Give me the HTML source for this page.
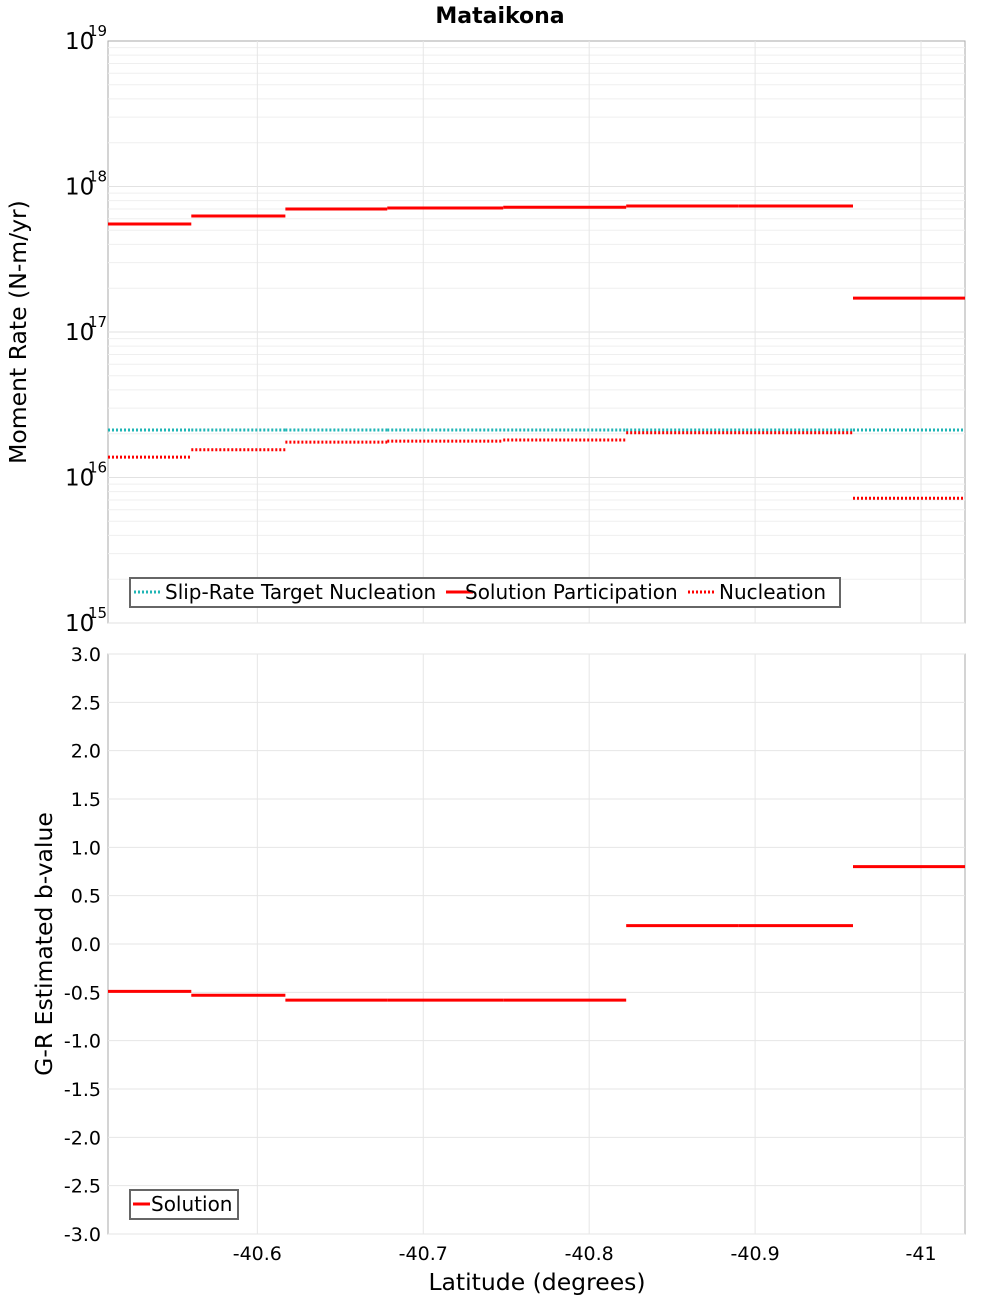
<!DOCTYPE html>
<html><head><meta charset="utf-8"><style>
body{margin:0;background:#fff}
svg text{font-family:"DejaVu Sans","Liberation Sans",sans-serif}
</style></head><body>
<svg id="c" width="1000" height="1300" xmlns="http://www.w3.org/2000/svg"></svg>
<script>
const bounds=[-40.510,-40.5602,-40.6169,-40.6783,-40.7482,-40.8223,-40.8898,-40.959,-41.0265];
const participation=[5.52e17,6.27e17,7.0e17,7.11e17,7.2e17,7.35e17,7.35e17,1.71e17];
const nucleation=[1.38e16,1.55e16,1.75e16,1.78e16,1.81e16,2.03e16,2.03e16,7.2e15];
const target=[2.12e16,2.12e16,2.12e16,2.12e16,2.12e16,2.12e16,2.12e16,2.12e16];
const bvalues=[-0.49,-0.53,-0.58,-0.58,-0.58,0.19,0.19,0.80];
const xTicks=[-40.6,-40.7,-40.8,-40.9,-41];
const xTickLabels=["-40.6","-40.7","-40.8","-40.9","-41"];
const logTicks=[15,16,17,18,19];
const bTicks=[-3,-2.5,-2,-1.5,-1,-0.5,0,0.5,1,1.5,2,2.5,3];

const NS="http://www.w3.org/2000/svg",svg=document.getElementById('c');
const L=108,R=965,T1=41,B1=623,T2=654,B2=1234;
const X=v=>L+(bounds[0]-v)/(bounds[0]-bounds[bounds.length-1])*(R-L);
const Y1=v=>B1-(Math.log10(v)-15)/4*(B1-T1);
const Y2=v=>B2-(v+3)/6*(B2-T2);
function el(t,a,txt){const e=document.createElementNS(NS,t);for(const k in a)e.setAttribute(k,a[k]);if(txt!==undefined)e.textContent=txt;svg.appendChild(e);return e;}

let f=el('rect',{x:L,y:T1,width:R-L,height:B1-T1,fill:'#fff',stroke:'#aaa'});

f=el('rect',{x:L,y:T2,width:R-L,height:B2-T2,fill:'#fff',stroke:'#aaa'});


for(let d=15;d<19;d++)for(let m=1;m<10;m++){const y=Y1(m*Math.pow(10,d));
 const g=el('line',{x1:L,x2:R,y1:y,y2:y,stroke:m==1?'#e2e2e2':'#efefef'});
 }
bTicks.forEach(v=>{const y=Y2(v);const g=el('line',{x1:L,x2:R,y1:y,y2:y,stroke:'#e6e6e6'});
 });
xTicks.forEach(v=>{const x=X(v);[[T1,B1],[T2,B2]].forEach(p=>{const g=el('line',{x1:x,x2:x,y1:p[0],y2:p[1],stroke:'#e6e6e6'});
 });});

logTicks.forEach(d=>{const y=Y1(Math.pow(10,d));
 const t=el('text',{x:65,y:y+8,'font-size':23},'10');
 const s=el('text',{x:88,y:y-5,'font-size':15},String(d));});
bTicks.forEach(v=>{const t=el('text',{x:101,y:Y2(v)+7,'font-size':19,'text-anchor':'end'},v.toFixed(1));
 });
xTicks.forEach((v,i)=>{const t=el('text',{x:X(v),y:1260,'font-size':19,'text-anchor':'middle'},xTickLabels[i]);
 });

function steps(arr,Y,color,dash,name){for(let i=0;i<arr.length;i++){const a={x1:X(bounds[i]),x2:X(bounds[i+1]),y1:Y(arr[i]),y2:Y(arr[i]),stroke:color,'stroke-width':3};
 if(dash)a['stroke-dasharray']=dash;const l=el('line',a);}}
steps(target,Y1,'#1fb5b5','2 2','target-segment');
steps(nucleation,Y1,'#ff0000','2 2','nucleation-segment');
steps(participation,Y1,'#ff0000',null,'participation-segment');
steps(bvalues,Y2,'#ff0000',null,'b-value-segment');

let t=el('text',{x:500,y:23,'font-size':22,'font-weight':'bold','text-anchor':'middle'},'Mataikona');
t=el('text',{x:537,y:1290,'font-size':23.5,'text-anchor':'middle'},'Latitude (degrees)');
t=el('text',{x:0,y:0,'font-size':23.5,'text-anchor':'middle',transform:'translate(26,332) rotate(-90)'},'Moment Rate (N-m/yr)');
t=el('text',{x:0,y:0,'font-size':23.5,'text-anchor':'middle',transform:'translate(52,944) rotate(-90)'},'G-R Estimated b-value');

let lg=el('rect',{x:130,y:578,width:710,height:29,fill:'#fff',stroke:'#666','stroke-width':2});
const items=[[134,'#1fb5b5','2 2','Slip-Rate Target Nucleation',165],[446,'#ff0000',null,'Solution Participation',465],[688,'#ff0000','2 2','Nucleation',719]];
items.forEach(it=>{const a={x1:it[0],x2:it[0]+27,y1:592,y2:592,stroke:it[1],'stroke-width':3};if(it[2])a['stroke-dasharray']=it[2];
 const l=el('line',a);
 const tx=el('text',{x:it[4],y:599,'font-size':20},it[3]);});
lg=el('rect',{x:130,y:1190,width:108,height:29,fill:'#fff',stroke:'#666','stroke-width':2});
let l=el('line',{x1:133,x2:150,y1:1204,y2:1204,stroke:'#ff0000','stroke-width':3});
t=el('text',{x:151,y:1211,'font-size':20},'Solution');
</script>
</body></html>
